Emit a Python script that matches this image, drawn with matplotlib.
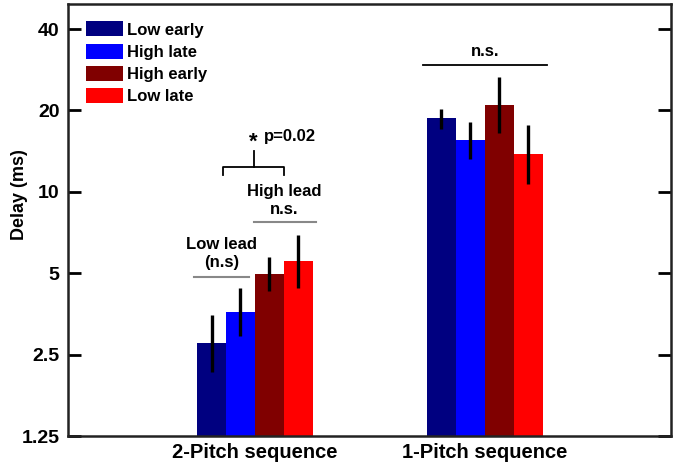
import matplotlib
matplotlib.use("Agg")
import matplotlib.pyplot as plt
from matplotlib.ticker import FixedLocator, NullLocator, NullFormatter
import numpy as np

plt.rcParams['font.family'] = ['Liberation Sans', 'DejaVu Sans']
plt.rcParams['font.weight'] = 'bold'

groups = ["2-Pitch sequence", "1-Pitch sequence"]
conditions = ["Low early", "High late", "High early", "Low late"]
colors = ["#000080", "#0000FF", "#800000", "#FF0000"]

# values per condition: [2-Pitch, 1-Pitch]
means = {
    "Low early":  [2.76, 18.7],
    "High late":  [3.60, 15.6],
    "High early": [4.96, 21.0],
    "Low late":   [5.54, 13.8],
}
err_low = {
    "Low early":  [2.16, 17.1],
    "High late":  [2.93, 13.2],
    "High early": [4.30, 16.5],
    "Low late":   [4.39, 10.7],
}
err_high = {
    "Low early":  [3.50, 20.3],
    "High late":  [4.39, 18.1],
    "High early": [5.74, 26.5],
    "Low late":   [6.91, 17.7],
}
yticks = [1.25, 2.5, 5, 10, 20, 40]
yticklabels = ["1.25", "2.5", "5", "10", "20", "40"]

fig = plt.figure(figsize=(6.77, 4.69), dpi=100)
ax = fig.add_axes([68/677, 33/469, 603/677, 432/469])
ax.set_yscale('log')

x = np.arange(1, len(groups) + 1)
w = 0.126
offsets = (np.arange(4) - 1.5) * w
for i, c in enumerate(conditions):
    m = np.array(means[c]); lo = np.array(err_low[c]); hi = np.array(err_high[c])
    ax.bar(x + offsets[i], m, width=w, color=colors[i], bottom=0.001, label=c, zorder=2)
    ax.vlines(x + offsets[i], lo, hi, color='black', lw=2.4, zorder=3)

ax.set_ylim(1.25, 49.5)
ax.set_xlim(0.187, 2.809)
ax.yaxis.set_major_locator(FixedLocator(yticks))
ax.set_yticklabels(yticklabels)
ax.yaxis.set_minor_locator(NullLocator())
ax.yaxis.set_minor_formatter(NullFormatter())
ax.set_xticks(x)
ax.set_xticklabels(groups)
ax.tick_params(axis='x', length=0, labelsize=14.5, pad=5)
ax.tick_params(axis='y', direction='in', length=9.5, width=2.0, labelsize=14, right=True, pad=6)
for lab in ax.get_xticklabels() + ax.get_yticklabels():
    lab.set_fontweight('bold')
for s in ax.spines.values():
    s.set_linewidth(1.8)
    s.set_color('#222222')
ax.set_ylabel("Delay (ms)", fontsize=13, fontweight='bold')
ax.yaxis.set_label_coords(-0.066, 0.56)

leg = ax.legend(loc='upper left', bbox_to_anchor=(0.0187, 0.975), frameon=False,
                fontsize=12, handlelength=2.2, handleheight=1.0, labelspacing=0.36,
                handletextpad=0.25, borderaxespad=0.0)
for t in leg.get_texts():
    t.set_fontweight('bold')

# Annotations
g1 = x[0]; g2 = x[1]
gray = '#888888'
fs = 12
# 1-pitch n.s.
ax.plot([g2 - 2.15 * w, g2 + 2.15 * w], [29.5, 29.5], color='black', lw=1.3)
ax.text(g2, 31.0, "n.s.", ha='center', va='bottom', fontsize=fs, fontweight='bold')
# Low lead (n.s)
ax.plot([g1 - 2.1 * w, g1 - 0.2 * w], [4.85, 4.85], color=gray, lw=1.5)
ax.text(g1 - 1.15 * w, 5.15, "Low lead\n(n.s)", ha='center', va='bottom', fontsize=fs,
        fontweight='bold', linespacing=1.2)
# High lead n.s.
ax.plot([g1 - 0.05 * w, g1 + 2.1 * w], [7.73, 7.73], color=gray, lw=1.5)
ax.text(g1 + 1.0 * w, 8.1, "n.s.", ha='center', va='bottom', fontsize=fs, fontweight='bold')
ax.text(g1 + 1.0 * w, 9.4, "High lead", ha='center', va='bottom', fontsize=fs, fontweight='bold')
# bracket
bl, br, by, bt, bs = g1 - 1.1 * w, g1 + 1.0 * w, 12.35, 11.5, 14.2
ax.plot([bl, bl, br, br], [bt, by, by, bt], color='black', lw=1.3)
ax.plot([g1 - 0.05 * w, g1 - 0.05 * w], [by, bs], color='black', lw=1.3)
ax.text(g1 - 0.05 * w, 14.0, "*", ha='center', va='bottom', fontsize=16, fontweight='bold')
ax.text(g1 + 0.3 * w, 15.0, "p=0.02", ha='left', va='bottom', fontsize=fs, fontweight='bold')

fig.savefig("out.png", dpi=100)
